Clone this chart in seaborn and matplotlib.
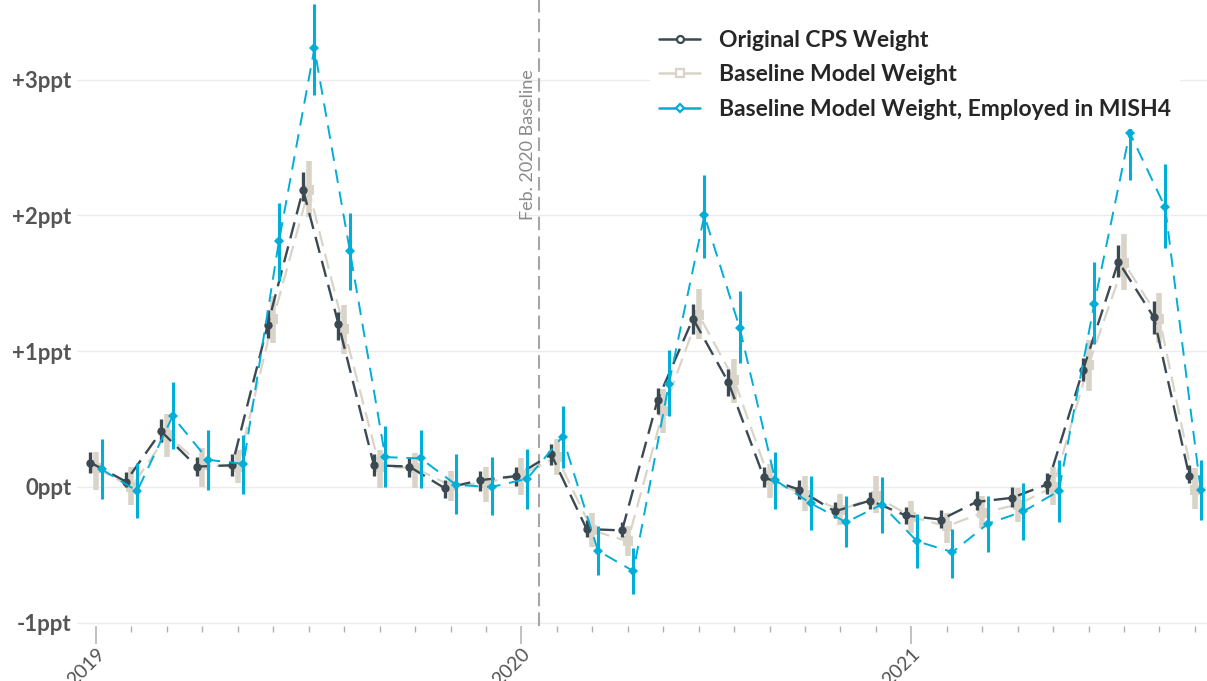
import numpy as np
import pandas as pd
import matplotlib
matplotlib.use("Agg")
import matplotlib.pyplot as plt
import seaborn as sns
from matplotlib.lines import Line2D

# ---- data (percentage-point change, with confidence bounds) ----
year_ticks = [0, 12, 23]
year_labels = ["2019", "2020", "2021"]
baseline_pos = 12.5
baseline_label = "Feb. 2020 Baseline"

series_names = [
    "Original CPS Weight",
    "Baseline Model Weight",
    "Baseline Model Weight, Employed in MISH4",
]

orig_est = [0.18, 0.04, 0.41, 0.15, 0.16, 1.19, 2.19, 1.20, 0.16, 0.15, -0.01, 0.05,
            0.08, 0.24, -0.31, -0.32, 0.64, 1.24, 0.77, 0.07, -0.02, -0.18, -0.10, -0.21,
            -0.24, -0.11, -0.08, 0.02, 0.86, 1.66, 1.25, 0.08]
orig_lo = [0.10, 0.00, 0.33, 0.08, 0.08, 1.10, 2.11, 1.08, 0.08, 0.07, -0.08, -0.03,
           0.01, 0.16, -0.37, -0.37, 0.54, 1.13, 0.67, 0.00, -0.09, -0.23, -0.16, -0.27,
           -0.30, -0.17, -0.15, -0.05, 0.78, 1.55, 1.13, 0.03]
orig_hi = [0.26, 0.11, 0.50, 0.22, 0.24, 1.30, 2.32, 1.29, 0.24, 0.21, 0.05, 0.12,
           0.15, 0.32, -0.24, -0.26, 0.73, 1.35, 0.87, 0.15, 0.05, -0.11, -0.04, -0.15,
           -0.17, -0.03, 0.00, 0.10, 0.95, 1.78, 1.37, 0.16]

base_est = [0.14, 0.00, 0.38, 0.16, 0.15, 1.24, 2.19, 1.16, 0.15, 0.14, 0.01, 0.03,
            0.09, 0.22, -0.32, -0.40, 0.56, 1.27, 0.79, 0.05, -0.06, -0.17, -0.07, -0.22,
            -0.29, -0.19, -0.13, 0.00, 0.90, 1.65, 1.24, -0.02]
base_lo = [-0.02, -0.13, 0.22, 0.00, 0.03, 1.06, 1.99, 0.98, -0.01, -0.01, -0.10, -0.11,
           -0.06, 0.09, -0.44, -0.51, 0.40, 1.09, 0.62, -0.08, -0.18, -0.28, -0.19, -0.34,
           -0.41, -0.30, -0.26, -0.13, 0.71, 1.45, 1.06, -0.16]
base_hi = [0.26, 0.15, 0.54, 0.29, 0.27, 1.41, 2.40, 1.34, 0.27, 0.25, 0.12, 0.15,
           0.21, 0.35, -0.19, -0.29, 0.72, 1.46, 0.94, 0.17, 0.08, -0.05, 0.08, -0.10,
           -0.19, -0.07, -0.01, 0.15, 1.08, 1.86, 1.43, 0.14]

mish_est = [0.13, -0.03, 0.52, 0.20, 0.17, 1.81, 3.23, 1.74, 0.22, 0.21, 0.015, 0.00,
            0.06, 0.37, -0.47, -0.62, 0.76, 2.00, 1.17, 0.05, -0.12, -0.26, -0.13, -0.40,
            -0.48, -0.27, -0.18, -0.03, 1.35, 2.61, 2.06, -0.02]
mish_lo = [-0.09, -0.23, 0.28, -0.02, -0.05, 1.52, 2.89, 1.45, 0.00, -0.01, -0.20, -0.21,
           -0.16, 0.14, -0.65, -0.79, 0.52, 1.69, 0.91, -0.16, -0.32, -0.44, -0.34, -0.60,
           -0.67, -0.48, -0.39, -0.26, 1.05, 2.26, 1.76, -0.24]
mish_hi = [0.35, 0.18, 0.77, 0.42, 0.38, 2.09, 3.56, 2.02, 0.45, 0.42, 0.24, 0.22,
           0.28, 0.60, -0.29, -0.45, 1.01, 2.30, 1.44, 0.26, 0.08, -0.07, 0.07, -0.20,
           -0.31, -0.07, 0.03, 0.20, 1.66, 2.96, 2.38, 0.20]

# ---- styling ----
colors = ["#3b4a52", "#dad4c8", "#00aed8"]
markers = ["o", "s", "D"]
msizes = [6.0, 7.0, 5.5]
dodge = [-0.16, 0.0, 0.16]
line_w = [1.7, 1.6, 1.4]
err_w = [2.4, 4.0, 2.2]
dash_pat = [(7, 3.5), (7, 3.5), (7, 4.5)]
draw_order = [1, 0, 2]

frames = []
for name, est, lo, hi, off in zip(series_names,
                                  [orig_est, base_est, mish_est],
                                  [orig_lo, base_lo, mish_lo],
                                  [orig_hi, base_hi, mish_hi],
                                  dodge):
    period = np.arange(len(est))
    frames.append(pd.DataFrame({"series": name, "period": period,
                                "x": period + off, "est": est, "lo": lo, "hi": hi}))
df = pd.concat(frames, ignore_index=True)

sns.set_theme(style="white")
plt.rcParams["font.family"] = ["Lato", "DejaVu Sans"]

fig = plt.figure(figsize=(12.07, 6.81), dpi=100)
ax = fig.add_axes([0.0638, 0.0808, 0.9362, 0.9192])

# confidence bars, then the dashed estimate lines with markers
for z, i in enumerate(draw_order):
    name = series_names[i]
    sub = df[df["series"] == name]
    ax.vlines(sub["x"].to_numpy(), sub["lo"].to_numpy(), sub["hi"].to_numpy(),
              color=colors[i], lw=err_w[i], zorder=3 + 2 * z)
    sns.lineplot(data=sub, x="x", y="est", ax=ax, color=colors[i],
                 linewidth=line_w[i], marker=markers[i], markersize=msizes[i],
                 markeredgewidth=0, dashes=False, legend=False, sort=True,
                 estimator=None, zorder=4 + 2 * z)
    ax.lines[-1].set_linestyle((0, dash_pat[i]))

# baseline marker
ax.axvline(baseline_pos, color="#a6a6a6", lw=1.5, ls=(0, (6.5, 3)), zorder=1)
ax.annotate(baseline_label, xy=(baseline_pos, 1.97), xytext=(-2, 0),
            textcoords="offset points", rotation=90, ha="right", va="bottom",
            color="#8a8a8a", fontsize=13)

# axes
ax.set_xlim(-0.536, 31.34)
ax.set_ylim(-1.024, 3.587)
ax.set_yticks([-1, 0, 1, 2, 3])
ax.set_yticklabels(["-1ppt", "0ppt", "+1ppt", "+2ppt", "+3ppt"],
                   fontsize=16, fontweight="bold", color="#555555")
ax.set_xticks(year_ticks)
ax.set_xticklabels(year_labels, rotation=45, ha="right", rotation_mode="anchor",
                   fontsize=14, color="#555555")
ax.set_xticks(np.arange(len(orig_est)), minor=True)
ax.tick_params(axis="x", which="major", length=13, width=1.1, color="#b0b0b0",
               pad=1, bottom=True)
ax.tick_params(axis="x", which="minor", length=4, width=1.0, color="#b0b0b0",
               bottom=True)
ax.tick_params(axis="y", length=0, pad=4)
ax.grid(axis="y", color="#ebebeb", lw=1.0, zorder=0)
ax.grid(axis="x", visible=False)
ax.set_axisbelow(True)
for s in ax.spines.values():
    s.set_visible(False)
ax.set_xlabel("")
ax.set_ylabel("")

# legend with open markers on an opaque white box
handles = [Line2D([0], [0], color=colors[i], lw=1.8, marker=markers[i],
                  markersize=msizes[i] - 1, markerfacecolor="white",
                  markeredgecolor=colors[i], markeredgewidth=1.6)
           for i in range(3)]
leg = fig.legend(handles, series_names, loc="upper left",
                 bbox_to_anchor=(0.5385, 0.970), frameon=True, facecolor="white",
                 edgecolor="none", framealpha=1.0, borderaxespad=0, borderpad=0.4,
                 handlelength=1.8, handletextpad=0.8, labelspacing=0.6,
                 prop={"family": "Lato", "weight": "bold", "size": 16.5})
leg.set_zorder(20)

fig.savefig("out.png", dpi=100)
